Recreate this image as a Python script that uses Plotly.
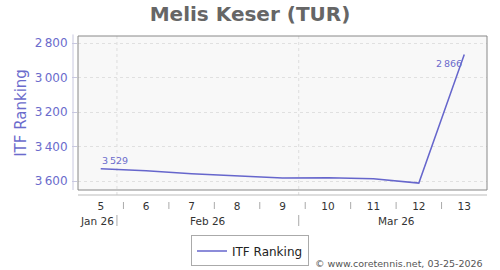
import datetime as dt
import plotly.graph_objects as go

# ---- data ----
week_labels = ["5", "6", "7", "8", "9", "10", "11", "12", "13"]
week_mondays = ["2026-01-26", "2026-02-02", "2026-02-09", "2026-02-16", "2026-02-23",
                "2026-03-02", "2026-03-09", "2026-03-16", "2026-03-23"]
ranking = [3529, 3540, 3558, 3571, 3583, 3581, 3587, 3612, 2866]
month_labels = ["Jan 26", "Feb 26", "Mar 26"]
month_starts = ["2026-01-01", "2026-02-01", "2026-03-01", "2026-04-01"]

LINE = "#6666cc"
TXT = "#6b6bcc"

xs = list(range(len(week_labels)))
mondays = [dt.date.fromisoformat(d) for d in week_mondays]


def date_to_x(d):
    # week centre sits at the integer position
    d0 = mondays[0]
    return ((d - d0).days - 3.5) / 7.0


xmin, xmax = -0.5, len(xs) - 0.5
PH = 154.0  # plot height in px, for paper offsets

fig = go.Figure()
fig.add_trace(go.Scatter(x=xs, y=ranking, mode="lines", name="ITF Ranking",
                         line=dict(color=LINE, width=1.5), hoverinfo="y"))

shapes = []
annotations = []

# plot frame
shapes.append(dict(type="rect", xref="paper", yref="paper", x0=0, x1=1, y0=0, y1=1,
                   line=dict(color="#888888", width=1), fillcolor="rgba(0,0,0,0)", layer="above"))
# offset y axis line
shapes.append(dict(type="line", xref="paper", yref="paper", x0=-5 / 409, x1=-5 / 409,
                   y0=0, y1=1.01, line=dict(color="#c8c8e0", width=1)))
# offset x axis line
shapes.append(dict(type="line", xref="paper", yref="paper", x0=0, x1=1,
                   y0=-5 / PH, y1=-5 / PH, line=dict(color="#bbbbbb", width=1)))
# week separators
for i in range(len(xs) - 1):
    shapes.append(dict(type="line", xref="x", yref="paper", x0=i + 0.5, x1=i + 0.5,
                       y0=-12 / PH, y1=-19 / PH, line=dict(color="#aaaaaa", width=1)))

# month boundaries, month labels
mstarts = [dt.date.fromisoformat(d) for d in month_starts]
for j, lab in enumerate(month_labels):
    a = max(date_to_x(mstarts[j]), xmin)
    b = min(date_to_x(mstarts[j + 1]), xmax + 0.14)
    annotations.append(dict(x=(a + b) / 2, y=-31 / PH, xref="x", yref="paper", text=lab,
                            showarrow=False, font=dict(size=10.5, color="#333333"),
                            xanchor="center", yanchor="middle"))
    if j > 0:
        xb = date_to_x(mstarts[j])
        shapes.append(dict(type="line", xref="x", yref="paper", x0=xb, x1=xb, y0=1, y1=-8 / PH,
                           line=dict(color="#dddddd", width=1, dash="3px,3px"), layer="below"))
        shapes.append(dict(type="line", xref="x", yref="paper", x0=xb, x1=xb,
                           y0=-25 / PH, y1=-36 / PH, line=dict(color="#aaaaaa", width=1)))

# data labels
annotations.append(dict(x=xs[0], y=ranking[0], xref="x", yref="y",
                        text=f"{ranking[0]:,}".replace(",", "\u2009"),
                        showarrow=False, font=dict(size=9.5, color=TXT),
                        xanchor="left", yanchor="bottom", xshift=-1, yshift=1))
annotations.append(dict(x=xs[-1], y=ranking[-1], xref="x", yref="y",
                        text=f"{ranking[-1]:,}".replace(",", "\u2009"),
                        showarrow=False, font=dict(size=9.5, color=TXT),
                        xanchor="right", yanchor="top", xshift=0, yshift=-2))
# copyright
annotations.append(dict(x=0.995, y=-73 / PH, xref="paper", yref="paper",
                        text="\u00a9 www.coretennis.net, 03-25-2026", showarrow=False,
                        font=dict(size=9.5, color="#555555"), xanchor="right", yanchor="middle"))

fig.update_layout(
    width=500, height=270,
    margin=dict(l=78, r=13, t=36, b=80, autoexpand=False),
    paper_bgcolor="white", plot_bgcolor="#f8f8f8",
    font=dict(family="DejaVu Sans", color="#333333"),
    separators=".\u2009",
    title=dict(text="<b>Melis Keser (TUR)</b>", x=0.5, xanchor="center", y=0.947, yanchor="middle",
               font=dict(size=20, color="#666666", family="DejaVu Sans")),
    showlegend=True,
    legend=dict(orientation="h", xref="container", yref="container", x=0.5, xanchor="center",
                y=0.128, yanchor="top",
                bordercolor="#aaaaaa", borderwidth=1, bgcolor="white",
                font=dict(size=12, color="#222222"), itemwidth=30),
    xaxis=dict(range=[xmin, xmax], tickvals=xs, ticktext=week_labels, showgrid=False,
               zeroline=False, showline=False, ticks="", ticklabelstandoff=8, automargin=False,
               tickfont=dict(size=10.5, color="#333333"), fixedrange=True),
    yaxis=dict(range=[3652, 2759], tickvals=[2800, 3000, 3200, 3400, 3600], tickformat=",d",
               showgrid=True, gridcolor="#e0e0e0", griddash="3px,3px", zeroline=False,
               showline=False, ticks="outside", ticklen=5, tickcolor="#c8c8e0", automargin=False,
               tickfont=dict(size=12, color=TXT), ticklabelstandoff=2,
               title=dict(text="ITF Ranking", font=dict(size=15, color=TXT), standoff=4)),
    shapes=shapes, annotations=annotations,
)

fig.write_html("out.html")
